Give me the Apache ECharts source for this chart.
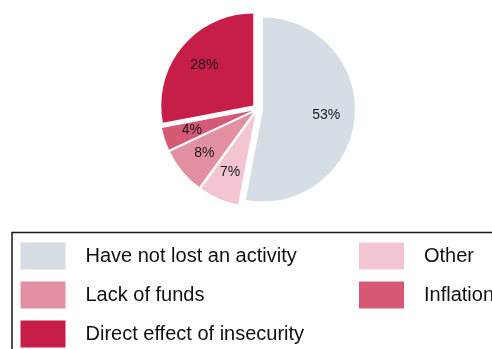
<!DOCTYPE html>
<html>
<head>
<meta charset="utf-8">
<script src="https://cdn.jsdelivr.net/npm/echarts@6/dist/echarts.min.js"></script>
<style>
  html, body { margin: 0; padding: 0; background: #fff; }
  #chart { width: 492px; height: 349px; }
</style>
</head>
<body>
<div id="chart"></div>
<script>
// Reasons for losing an activity (share of respondents, %)
const categories = ['Have not lost an activity', 'Other', 'Lack of funds', 'Inflation', 'Direct effect of insecurity'];
const shares = [53, 7, 8, 4, 28];
const colors = ['#d5dee5', '#f2c5d0', '#e38fa2', '#d65a75', '#c61e48'];

// legend is laid out in two columns
const legendColLeft = ['Have not lost an activity', 'Lack of funds', 'Direct effect of insecurity'];
const legendColRight = ['Other', 'Inflation'];

const pieCenter = [257.5, 109];
const pieRadius = 92;
const explode = 5.5;

const sliceData = categories.map((name, i) => ({
  name: name,
  value: shares[i],
  selected: true,
  itemStyle: { color: colors[i] }
}));

const legendBase = {
  orient: 'vertical',
  padding: 0,
  itemWidth: 45,
  itemHeight: 27,
  itemGap: 12,
  icon: 'rect',
  selectedMode: false,
  textStyle: {
    fontFamily: 'Liberation Sans, Arial, sans-serif',
    fontSize: 20,
    color: '#111',
    padding: [0, 0, 0, 15]
  }
};

const chart = echarts.init(document.getElementById('chart'), null, { renderer: 'canvas' });
chart.setOption({
  animation: false,
  color: colors,
  legend: [
    Object.assign({}, legendBase, { left: 20.5, top: 242.5, data: legendColLeft }),
    Object.assign({}, legendBase, { left: 359, top: 242.5, data: legendColRight })
  ],
  graphic: [{
    type: 'rect',
    shape: { x: 12, y: 232.5, width: 520, height: 140 },
    style: { fill: 'none', stroke: '#1a1a1a', lineWidth: 1.5 },
    silent: true
  }],
  series: [
    {
      // filled slices
      type: 'pie',
      center: pieCenter,
      radius: [0, pieRadius],
      startAngle: 90,
      clockwise: true,
      selectedMode: 'multiple',
      selectedOffset: explode,
      avoidLabelOverlap: false,
      label: { show: false },
      labelLine: { show: false },
      itemStyle: { borderWidth: 0 },
      emphasis: { disabled: true },
      select: { itemStyle: { borderWidth: 0 } },
      data: sliceData
    },
    {
      // percentage labels, placed a little outside mid-radius
      type: 'pie',
      center: pieCenter,
      radius: [29, pieRadius],
      startAngle: 90,
      clockwise: true,
      silent: true,
      selectedMode: 'multiple',
      selectedOffset: explode,
      avoidLabelOverlap: false,
      itemStyle: { color: 'rgba(0,0,0,0)', borderWidth: 0 },
      label: {
        show: true,
        position: 'inside',
        formatter: '{c}%',
        fontFamily: 'Liberation Sans, Arial, sans-serif',
        fontSize: 14,
        color: '#1a1a1a'
      },
      labelLine: { show: false },
      emphasis: { disabled: true },
      data: sliceData.map(d => ({ name: d.name, value: d.value, selected: true }))
    }
  ]
});
</script>
</body>
</html>
